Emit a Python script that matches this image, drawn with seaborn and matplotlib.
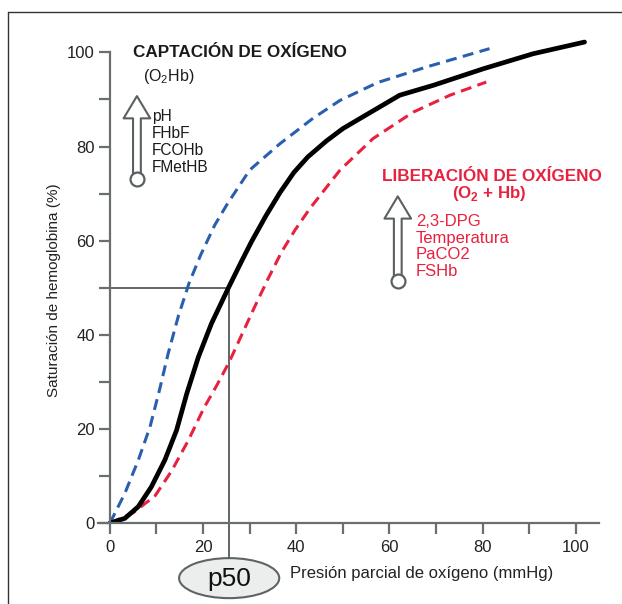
import matplotlib
matplotlib.use('Agg')
import matplotlib.pyplot as plt
import seaborn as sns
from matplotlib.patches import Ellipse, FancyArrowPatch
from matplotlib.lines import Line2D

# curves (PO2 in mmHg, saturation in %)
po2_normal = [0, 3.2, 6.1, 8.9, 11.8, 14.3, 16.5, 19.0, 21.8, 25.6, 28.3, 30.4, 33.5, 36.5,
              39.5, 42.5, 46.5, 50.0, 53.6, 62.2, 69.4, 80.1, 90.8, 101.9]
sat_normal = [0, 1.0, 3.5, 7.7, 13.4, 19.7, 27.5, 35.3, 42.4, 50.3, 55.7, 59.8, 65.3, 70.2,
              74.5, 77.8, 81.2, 83.8, 85.9, 90.9, 93.0, 96.5, 99.7, 102.2]

po2_left = [0, 3.2, 6.1, 8.6, 10.7, 12.5, 14.7, 17.0, 19.5, 22.5, 25.2, 30.0, 36.5, 43.6,
            49.4, 57.5, 68.3, 81.5]
sat_left = [0, 6.3, 13.4, 20.4, 28.5, 36.0, 44.0, 51.0, 57.0, 63.3, 67.8, 75.0, 80.6, 86.0,
            89.8, 93.6, 97.0, 100.8]

po2_right = [0, 5.0, 9.7, 13.2, 16.8, 20.2, 22.8, 25.6, 28.3, 31.1, 34.0, 36.8, 39.7, 42.9,
             49.4, 56.5, 65.1, 73.0, 80.8]
sat_right = [0, 2.2, 5.8, 11.0, 17.5, 24.5, 29.0, 34.2, 40.0, 46.0, 52.0, 57.5, 62.2, 66.8,
             75.0, 81.7, 87.3, 90.9, 93.7]

p50 = 25.6
uptake_items = ['pH', 'FHbF', 'FCOHb', 'FMetHB']
release_items = ['2,3-DPG', 'Temperatura', 'PaCO2', 'FSHb']

gray = '#6a6e70'
red = '#e8213f'
blue = '#2a5fae'

sns.set_style('ticks')
plt.rcParams['font.family'] = ['Liberation Sans', 'DejaVu Sans']
plt.rcParams['mathtext.fontset'] = 'custom'
plt.rcParams['mathtext.rm'] = 'Liberation Sans'
plt.rcParams['mathtext.bf'] = 'Liberation Sans:bold'

fig = plt.figure(figsize=(6.22, 6.04), dpi=100)
ax = fig.add_axes([0.158, 0.134, 0.805, 0.826])

sns.lineplot(x=po2_left, y=sat_left, ax=ax, color=blue, lw=2.2, sort=False,
             linestyle=(0, (3.6, 2.1)))
sns.lineplot(x=po2_right, y=sat_right, ax=ax, color=red, lw=2.2, sort=False,
             linestyle=(0, (3.6, 2.1)))
sns.lineplot(x=po2_normal, y=sat_normal, ax=ax, color='black', lw=3.4, sort=False)

ax.set_xlim(-2.5, 105)
ax.set_ylim(0, 106)
ax.set_xticks(range(0, 101, 20))
ax.set_xticks(range(10, 100, 20), minor=True)
ax.set_yticks(range(0, 101, 20))
ax.set_yticks(range(10, 100, 20), minor=True)
ax.tick_params(which='both', direction='out', length=8, width=1.6, color=gray,
               labelsize=12, labelcolor='#222222')
ax.tick_params(axis='y', pad=3)
ax.tick_params(axis='x', pad=4)
for s in ['top', 'right']:
    ax.spines[s].set_visible(False)
for s in ['left', 'bottom']:
    ax.spines[s].set_color(gray)
    ax.spines[s].set_linewidth(1.6)
ax.spines['left'].set_position(('data', 0))
ax.spines['left'].set_bounds(0, 100)

ax.set_ylabel('Saturación de hemoglobina (%)', fontsize=11, color='#222222')
ax.yaxis.set_label_coords(-0.075, 0.467)
ax.set_xlabel('Presión parcial de oxígeno (mmHg)', fontsize=12, color='#222222')
ax.xaxis.set_label_coords(0.646, -0.102)
ax.xaxis.label.set_va('center')

# p50 guide lines and bubble
ax.plot([0, p50], [50, 50], color='#55595b', lw=1.3, zorder=1)
ax.plot([p50, p50], [50, -7.5], color='#55595b', lw=1.3, clip_on=False, zorder=1)
ax.add_patch(Ellipse((p50, -11.7), 21.5, 8.5, facecolor='#eceeee', edgecolor='#5e6466',
                     lw=1.5, clip_on=False, zorder=3))
ax.text(p50, -11.9, 'p50', fontsize=19, ha='center', va='center', color='#111111', zorder=4)


def hollow_arrow(x, y0, y1):
    arr = FancyArrowPatch((x, y0), (x, y1), arrowstyle='simple,head_length=1.0,head_width=1.2,tail_width=0.35',
                          mutation_scale=16, facecolor='white', edgecolor='#5a6062', lw=1.5,
                          clip_on=False, zorder=5)
    ax.add_patch(arr)
    ax.plot([x], [y0], marker='o', markersize=10, markerfacecolor='white',
            markeredgecolor='#5a6062', markeredgewidth=1.6, clip_on=False, zorder=6)


# uptake annotation
ax.text(4.9, 100, 'CAPTACIÓN DE OXÍGENO', fontsize=12.3, fontweight='bold', va='center',
        color='#1a1a1a')
ax.text(7.1, 94.9, '(O$_{\\mathregular{2}}$Hb)', fontsize=11.5, va='center', color='#1a1a1a')
hollow_arrow(5.8, 73.2, 91.3)
for i, t in enumerate(uptake_items):
    ax.text(9.0, 86.4 - i * 3.65, t, fontsize=11.2, va='center', color='#1a1a1a')

# release annotation
ax.text(82, 73.7, 'LIBERACIÓN DE OXÍGENO', fontsize=12.3, fontweight='bold', ha='center',
        va='center', color=red)
ax.text(81.5, 70, '(O$_{\\mathbf{2}}$ + Hb)', fontsize=12.2, fontweight='bold', ha='center',
        va='center', color=red)
hollow_arrow(61.8, 51.4, 70)
for i, t in enumerate(release_items):
    ax.text(65.7, 64.1 - i * 3.55, t, fontsize=12, va='center', color=red)

# figure frame (left and top edges)
fig.add_artist(Line2D([0.013, 0.013], [0, 0.980], color='#333333', lw=1, transform=fig.transFigure))
fig.add_artist(Line2D([0.013, 1], [0.980, 0.980], color='#333333', lw=1, transform=fig.transFigure))

fig.savefig('out.png', dpi=100)
